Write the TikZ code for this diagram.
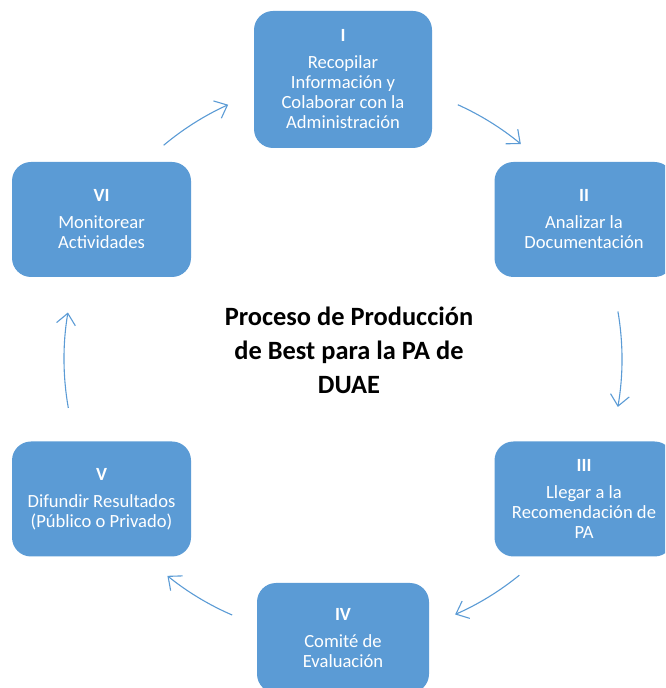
\documentclass[tikz,border=0pt]{standalone}
\usepackage{fontspec}
\setmainfont{Carlito}
\usetikzlibrary{arrows.meta,calc}
\definecolor{boxblue}{HTML}{5B9BD5}
\definecolor{arrowblue}{HTML}{5B9BD5}
\begin{document}
\begin{tikzpicture}[x=1pt,y=1pt,
  stepbox/.style={fill=boxblue, draw=none, rounded corners=19pt, text=white,
    align=center, font=\fontsize{18.6}{20}\selectfont,
    minimum width=179pt, minimum height=115pt, inner sep=0pt},
  conn/.style={draw=arrowblue, line width=1.1pt,
    -{Straight Barb[length=11pt,width=19pt,line width=1.1pt]}},
  titletext/.style={align=center, font=\bfseries\fontsize{26.4}{34}\selectfont}]
\useasboundingbox (0,0) rectangle (665,688);
\begin{scope}
\clip (0,0) rectangle (665,688);
\node[stepbox, minimum width=178pt, minimum height=137pt] (n1) at (343,608.5)
  {{\bfseries I}\\[7pt]Recopilar\\Información y\\Colaborar con la\\Administración};
\node[stepbox] (n2) at (584,468.5)
  {{\bfseries II}\\[7pt]Analizar la\\Documentación};
\node[stepbox] (n3) at (584,189)
  {{\bfseries III}\\[7pt]Llegar a la\\Recomendación de\\PA};
\node[stepbox, minimum width=172pt, minimum height=110pt] (n4) at (343,50)
  {{\bfseries IV}\\[7pt]Comité de\\Evaluación};
\node[stepbox] (n5) at (101.5,189)
  {{\bfseries V}\\[7pt]Difundir Resultados\\(Público o Privado)};
\node[stepbox] (n6) at (101.5,468.5)
  {{\bfseries VI}\\[7pt]Monitorear\\Actividades};
\end{scope}
\node[titletext] (title) at (349,338)
  {Proceso de Producción\\de Best para la PA de\\DUAE};
\coordinate (c) at (343,329);
\coordinate (a1) at ($(c)+(65.7:279pt)$);
\coordinate (a2) at ($(c)+(9.8:279pt)$);
\coordinate (a3) at ($(c)+(-50.8:279pt)$);
\coordinate (a4) at ($(c)+(-113.4:279pt)$);
\coordinate (a5) at ($(c)+(190.1:279pt)$);
\coordinate (a6) at ($(c)+(130:279pt)$);
\draw[conn] (a1) arc[start angle=65.7, end angle=50.4, radius=279pt];
\draw[conn] (a2) arc[start angle=9.8, end angle=-9.9, radius=279pt];
\draw[conn] (a3) arc[start angle=-50.8, end angle=-66.3, radius=279pt];
\draw[conn] (a4) arc[start angle=-113.4, end angle=-129, radius=279pt];
\draw[conn] (a5) arc[start angle=190.1, end angle=170.4, radius=279pt];
\draw[conn] (a6) arc[start angle=130, end angle=114.3, radius=279pt];
\end{tikzpicture}
\end{document}
